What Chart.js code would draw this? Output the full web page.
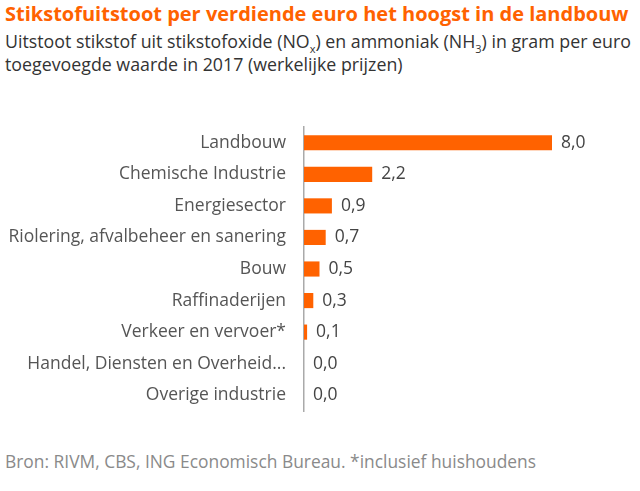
<!DOCTYPE html>
<html lang="nl">
<head>
    <meta charset="UTF-8">
    <title>Stikstofuitstoot per verdiende euro</title>
    <script src="https://cdn.jsdelivr.net/npm/chart.js"></script>
    <style>
        body { margin: 0; background: #fff; font-family: "Open Sans", sans-serif; }
        #wrap { position: relative; width: 640px; height: 491px; overflow: hidden; }
        #title { position: absolute; left: 5px; top: 0px; font-size: 20px; font-weight: 700; color: #ff6200; white-space: nowrap; }
        #subtitle { position: absolute; left: 5px; top: 30px; font-size: 17.8px; line-height: 23px; color: #333; white-space: nowrap; }
        #footer { position: absolute; left: 5px; top: 449px; font-size: 17.4px; color: #8a8a8a; white-space: nowrap; }
        #chart-container { position: absolute; left: 0; top: 110px; width: 640px; height: 320px; }
        canvas { display: block; }
        sub { font-size: 11px; line-height: 0; }
    </style>
</head>
<body>
<div id="wrap">
    <div id="title">Stikstofuitstoot per verdiende euro het hoogst in de landbouw</div>
    <div id="subtitle">Uitstoot stikstof uit stikstofoxide (NO<sub>x</sub>) en ammoniak (NH<sub>3</sub>) in gram per euro<br>toegevoegde waarde in 2017 (werkelijke prijzen)</div>
    <div id="chart-container"><canvas id="barChart"></canvas></div>
    <div id="footer">Bron: RIVM, CBS, ING Economisch Bureau. *inclusief huishoudens</div>
</div>

<script>
    // sectors and emission per euro value added
    const sectors = [
        'Landbouw',
        'Chemische Industrie',
        'Energiesector',
        'Riolering, afvalbeheer en sanering',
        'Bouw',
        'Raffinaderijen',
        'Verkeer en vervoer*',
        'Handel, Diensten en Overheid...',
        'Overige industrie'
    ];
    const values = [8.0, 2.2, 0.9, 0.7, 0.5, 0.3, 0.1, 0.0, 0.0];

    // draw "8,0" style labels right of each bar
    const valueLabels = {
        id: 'valueLabels',
        afterDatasetsDraw(chart) {
            const ctx = chart.ctx;
            const meta = chart.getDatasetMeta(0);
            ctx.save();
            ctx.font = '17.5px "Open Sans", sans-serif';
            ctx.fillStyle = '#444';
            ctx.textBaseline = 'middle';
            meta.data.forEach((bar, i) => {
                const txt = values[i].toFixed(1).replace('.', ',');
                ctx.fillText(txt, bar.x + 9, bar.y);
            });
            ctx.restore();
        }
    };

    const ctx = document.getElementById('barChart').getContext('2d');
    const barChart = new Chart(ctx, {
        type: 'bar',
        data: {
            labels: sectors,
            datasets: [{
                data: values,
                backgroundColor: '#ff6200',
                barPercentage: 0.96,
                categoryPercentage: 0.5
            }]
        },
        options: {
            indexAxis: 'y',
            responsive: true,
            maintainAspectRatio: false,
            animation: false,
            layout: { padding: { top: 17, bottom: 19, left: 0, right: 26 } },
            plugins: {
                legend: { display: false },
                tooltip: { enabled: false }
            },
            scales: {
                x: {
                    display: false,
                    min: 0,
                    max: 10
                },
                y: {
                    afterFit: (scale) => {
                        scale.width = 304;
                        scale.paddingTop = 0;
                        scale.paddingBottom = 0;
                    },
                    grid: { display: true, color: 'transparent', drawTicks: false },
                    border: { display: true, color: '#aaaaaa', width: 1.5 },
                    ticks: {
                        padding: 18,
                        color: '#555',
                        font: { family: '"Open Sans", sans-serif', size: 17.5 }
                    }
                }
            }
        },
        plugins: [valueLabels]
    });
</script>
</body>
</html>
